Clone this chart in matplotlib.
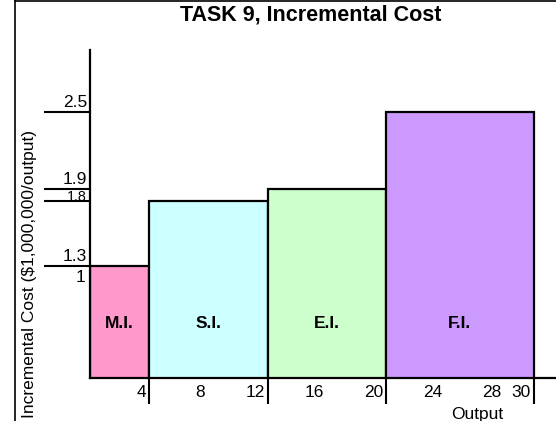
import matplotlib
matplotlib.use("Agg")
import matplotlib.pyplot as plt
from matplotlib.lines import Line2D

plt.rcParams['font.family'] = ['Liberation Sans', 'DejaVu Sans']

# data
phases = ["M.I.", "S.I.", "E.I.", "F.I."]
starts = [0, 4, 12, 20]
ends = [4, 12, 20, 30]
costs = [1.3, 1.8, 1.9, 2.5]
colors = ["#FF99CC", "#CCFFFF", "#CCFFCC", "#CC99FF"]
x_labels = [4, 8, 12, 16, 20, 24, 28, 30]
x_lines = [4, 12, 20, 30]
y_labels = ["2.5", "1.9", "1.8", "1.3"]

W, H = 556, 421
FS = 12.5
fig = plt.figure(figsize=(W / 100, H / 100), dpi=100)
ax = fig.add_axes([90 / W, 43 / H, 466 / W, 328 / H])

widths = [e - s for s, e in zip(starts, ends)]
ax.bar(starts, costs, width=widths, align='edge', color=colors,
       edgecolor='black', linewidth=1.6, zorder=2)

for s, w, name in zip(starts, widths, phases):
    ax.text(s + w / 2, 0.81, name, ha='center', va='baseline',
            fontsize=FS, fontweight='bold', zorder=3)

ax.set_xlim(0, 31.49)
ax.set_ylim(0.424, 2.98)

for side in ['top', 'right']:
    ax.spines[side].set_visible(False)
for side in ['left', 'bottom']:
    ax.spines[side].set_linewidth(1.6)
    ax.spines[side].set_zorder(4)

ax.set_yticks([float(v) for v in y_labels])
ax.tick_params(axis='y', direction='out', length=33, width=1.5, labelleft=False)
ax.set_xticks(x_lines)
ax.tick_params(axis='x', direction='out', length=18.5, width=1.5, labelbottom=False)

for lab in y_labels:
    # the 1.8 and 1.9 ticks sit close together, so the 1.8 label is squeezed in
    if lab == "1.8":
        size, dy = 10.3, 0.5
    else:
        size, dy = FS, 3.2
    ax.annotate(lab, xy=(0, float(lab)), xycoords=('axes fraction', 'data'),
                xytext=(-2.2, dy), textcoords='offset points',
                ha='right', va='baseline', fontsize=size)
ax.annotate("1", xy=(0, 1.3), xycoords=('axes fraction', 'data'),
            xytext=(-3.2, -11.5), textcoords='offset points',
            ha='right', va='baseline', fontsize=FS)

for v in x_labels:
    ax.annotate(str(v), xy=(v, 0), xycoords=('data', 'axes fraction'),
                xytext=(-2.2, -13.7), textcoords='offset points',
                ha='right', va='baseline', fontsize=FS)

ax.annotate("Output", xy=(26.15, 0), xycoords=('data', 'axes fraction'),
            xytext=(0, -29.5), textcoords='offset points',
            ha='center', va='baseline', fontsize=FS)

fig.text(30 / W, 1 - 274 / H, "Incremental Cost ($1,000,000/output)",
         rotation=90, ha='center', va='center', fontsize=FS)
fig.text(311 / W, 1 - 21 / H, "TASK 9, Incremental Cost",
         ha='center', va='baseline', fontsize=15.5, fontweight='bold')

# frame edges
fig.add_artist(Line2D([14.5 / W, 1], [1 - 0.7 / H, 1 - 0.7 / H], color='black', lw=1.2))
fig.add_artist(Line2D([14.5 / W, 14.5 / W], [0, 1 - 0.7 / H], color='black', lw=1.2))

fig.savefig("out.png", dpi=100)
